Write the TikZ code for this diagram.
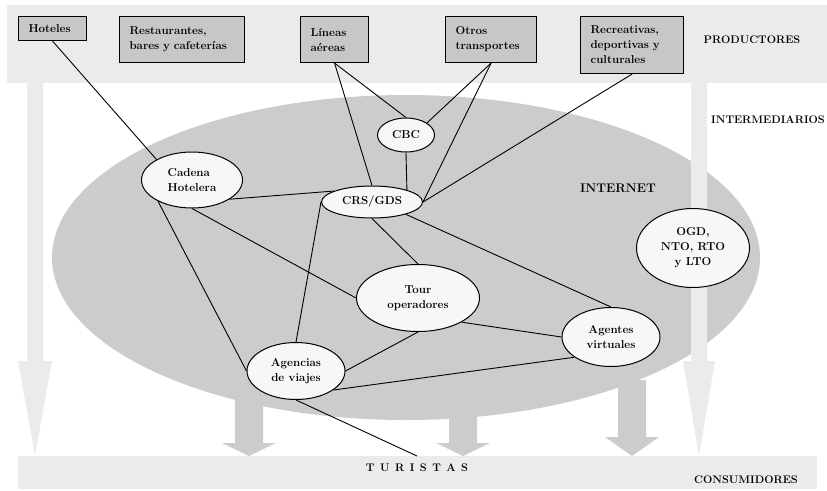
\documentclass[tikz,border=0pt]{standalone}
\usepackage{tikz}
\usetikzlibrary{shapes.geometric}
\definecolor{bandgray}{gray}{0.92}
\definecolor{ovalgray}{gray}{0.80}
\definecolor{boxgray}{gray}{0.78}
\definecolor{nodewhite}{gray}{0.97}
\newcommand{\ls}{\hspace{5.5pt}}

\begin{document}
\begin{tikzpicture}[x=1pt,y=-1pt]
            \tikzstyle{every node} = [font=\fontsize{11}{15}\selectfont\bfseries];
            \tikzstyle{prod} = [draw=black,fill=boxgray,line width=1.1pt,anchor=north west,inner xsep=10pt,inner ysep=0pt,align=left,font=\fontsize{11.5}{15}\selectfont\bfseries];
            \tikzstyle{agent} = [ellipse,draw=black,fill=nodewhite,line width=1pt,inner sep=0pt,align=center,font=\fontsize{11.5}{15}\selectfont\bfseries];
            \tikzstyle{link} = [line width=0.9pt];
            \useasboundingbox (0,0) rectangle (827,490);
            % bands
            \fill[bandgray] (7,5) rectangle (827,83);
            \fill[bandgray] (18,456) rectangle (817,489);
            \fill[bandgray] (27,83) -- (43,83) -- (43,361) -- (52,361) -- (35,456) -- (18,361) -- (27,361) -- cycle;
            % internet
            \fill[ovalgray] (406,257.5) ellipse [x radius=354pt, y radius=162.5pt];
            \foreach \x/\h in {249/443, 463/443, 632/437}
                \fill[ovalgray] (\x-14,380) -- (\x+14,380) -- (\x+14,\h) -- (\x+27,\h) -- (\x,456) -- (\x-27,\h) -- (\x-14,\h) -- cycle;
            \fill[bandgray] (691,83) -- (707,83) -- (707,361) -- (715,361) -- (699,456) -- (683,361) -- (691,361) -- cycle;
            % productores
            \node[prod,text width=48pt,minimum height=24pt] (hot) at (18,16) {Hoteles};
            \node[prod,text width=105pt,minimum height=46pt] (res) at (119,16) {Restaurantes,\\ bares y cafeterías};
            \node[prod,text width=48pt,minimum height=46pt] (lin) at (300,16) {Líneas\\ aéreas};
            \node[prod,text width=71pt,minimum height=46pt] (otr) at (445,16) {Otros\\ transportes};
            \node[prod,text width=83pt,minimum height=57pt] (rec) at (580,16) {Recreativas,\\ deportivas y\\ culturales};
            % intermediarios
            \node[agent,minimum width=57pt,minimum height=34pt] (cbc) at (406,135) {CBC};
            \node[agent,minimum width=101pt,minimum height=56pt,align=left] (cad) at (192,180) {Cadena\\ Hotelera};
            \node[agent,minimum width=101pt,minimum height=32pt] (crs) at (372,202) {CRS/GDS};
            \node[agent,minimum width=123pt,minimum height=67pt] (tou) at (418,298) {Tour\\ operadores};
            \node[agent,minimum width=113pt,minimum height=79pt] (ogd) at (693,248) {OGD,\\ NTO, RTO\\ y LTO};
            \node[agent,minimum width=98pt,minimum height=59pt] (agt) at (611,337) {Agentes\\ virtuales};
            \node[agent,minimum width=98pt,minimum height=57pt] (agv) at (296,371) {Agencias\\ de viajes};
            \coordinate (tpt) at (417,456);
            % enlaces
            \draw[link] (hot.south) -- (cad.150);
            \draw[link] (lin.south) -- (crs.north);
            \draw[link] (lin.south) -- (cbc.north);
            \draw[link] (otr.south) -- (cbc.30);
            \draw[link] (otr.south) -- (crs.east);
            \draw[link] (rec.south) -- (crs.east);
            \draw[link] (cbc.south) -- (crs.19);
            \draw[link] (cad.-27) -- (crs.164);
            \draw[link] (cad.south) -- (tou.west);
            \draw[link] (cad.212) -- (agv.west);
            \draw[link] (crs.west) -- (agv.north);
            \draw[link] (crs.south) -- (tou.north);
            \draw[link] (crs.-20) -- (agt.north);
            \draw[link] (tou.south) -- (agv.east);
            \draw[link] (tou.-29) -- (agt.west);
            \draw[link] (agv.-27) -- (agt.209);
            \draw[link] (agv.south) -- (tpt);
            % niveles
            \node (prd) at (752,40) {PRODUCTORES};
            \node (itm) at (768,120) {INTERMEDIARIOS};
            \node (con) at (746,480) {CONSUMIDORES};
            \node[font=\fontsize{12.5}{15}\selectfont\bfseries] (net) at (618,188) {INTERNET};
            \node[font=\fontsize{11}{13}\selectfont\bfseries] (tur) at (417,468) {T\ls U\ls R\ls I\ls S\ls T\ls A\ls S};
        \end{tikzpicture}
\end{document}
